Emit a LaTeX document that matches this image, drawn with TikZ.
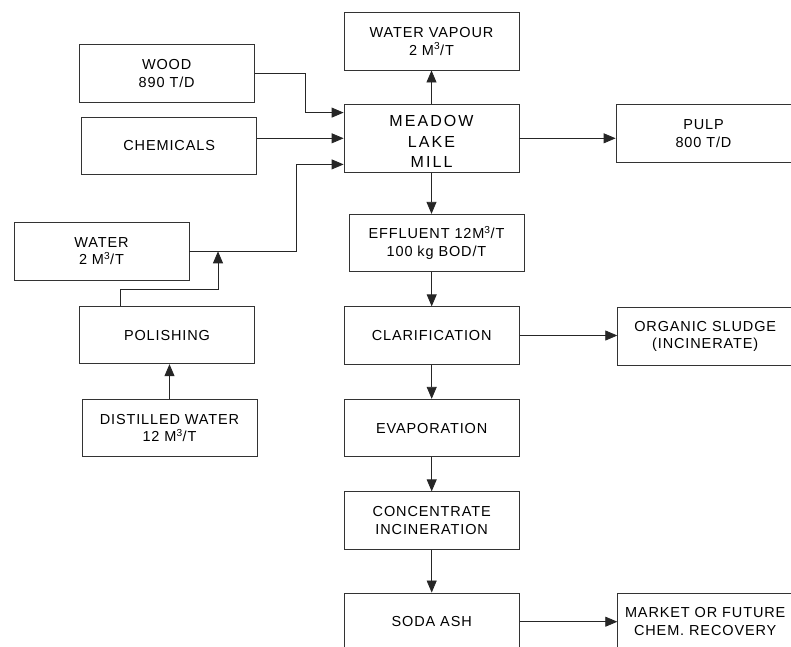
\documentclass[tikz,border=0pt]{standalone}
\usepackage{fontspec}
\newfontfamily\flowfont[LetterSpace=6]{Liberation Sans}
\newfontfamily\millfont[LetterSpace=13]{Liberation Sans}
\usetikzlibrary{arrows.meta,calc}

\begin{document}
\begin{tikzpicture}[x=1pt,y=-1pt,
    box/.style={draw=black!80, line width=0.8pt, minimum width=175pt, minimum height=57.5pt,
        align=center, inner sep=2pt, font=\flowfont\fontsize{14.5}{17.5}\selectfont},
    flow/.style={draw=black!85, line width=0.8pt, -{Triangle[length=12pt,width=10pt]}}]
    % page frame (the right and bottom boxes run off the edge)
    \useasboundingbox (0,0) rectangle (791,646);
    \clip (0,0) rectangle (791,646);
    % inputs
    \node[box] (wood) at (166.7,73.5) {WOOD\\890 T/D};
    \node[box] (chem) at (169.2,146) {CHEMICALS};
    \node[box] (water) at (101.5,251.3) {WATER\\2 M\textsuperscript{3}/T};
    \node[box] (polish) at (167,335) {POLISHING};
    \node[box] (distil) at (169.5,428) {DISTILLED WATER\\12 M\textsuperscript{3}/T};
    % mill and main line
    \node[box] (vapour) at (431.5,41.3) {WATER VAPOUR\\2 M\textsuperscript{3}/T};
    \node[box, minimum height=68pt] (mill) at (431.5,138.3) {};
    \node[align=center, inner sep=0pt, font=\millfont\fontsize{16}{20.5}\selectfont] (milltext)
        at ($(mill.center)+(0,3.4)$) {MEADOW\\LAKE\\MILL};
    \node[box] (pulp) at (703.5,133.5) {PULP\\800 T/D};
    \node[box] (effl) at (436.5,243) {EFFLUENT 12M\textsuperscript{3}/T\\100 kg BOD/T};
    \node[box] (clar) at (431.7,335.5) {CLARIFICATION};
    \node[box] (sludge) at (705.2,336.5) {ORGANIC SLUDGE\\(INCINERATE)};
    \node[box] (evap) at (431.7,428) {EVAPORATION};
    \node[box] (conc) at (431.7,520.5) {CONCENTRATE\\INCINERATION};
    \node[box] (soda) at (431.7,621.7) {SODA ASH};
    \node[box] (market) at (705.2,621.7) {MARKET OR FUTURE\\CHEM. RECOVERY};
    % bend points
    \coordinate (woodbend) at (305.7,0);
    \coordinate (waterbend) at (296,0);
    \coordinate (jx) at (218,0);
    \coordinate (inA) at ($(mill.north west)+(0,8.7)$);
    \coordinate (inC) at ($(mill.south west)+(0,-8.3)$);
    \coordinate (jn) at (water.east -| jx);
    \coordinate (polout) at ($(polish.north)+(-46.3,0)$);
    % feeds into the mill
    \draw[flow] (wood.east) -| (woodbend |- inA) -- (inA);
    \draw[flow] (mill.west -| chem.east) -- (mill.west);
    \draw[flow] (water.east) -| (waterbend |- inC) -- (inC);
    \draw[flow] (polout) -- ++(0,-16.7) -| (jn);
    \draw[flow] (distil.north) -- (distil.north |- polish.south);
    % out of the mill
    \draw[flow] (mill.north) -- (vapour.south);
    \draw[flow] (mill.east) -- (mill.east -| pulp.west);
    \draw[flow] (mill.south) -- (mill.south |- effl.north);
    \draw[flow] (effl.south -| clar.north) -- (clar.north);
    \draw[flow] (clar.east) -- (clar.east -| sludge.west);
    \draw[flow] (clar.south) -- (evap.north);
    \draw[flow] (evap.south) -- (conc.north);
    \draw[flow] (conc.south) -- (soda.north);
    \draw[flow] (soda.east) -- (soda.east -| market.west);
\end{tikzpicture}
\end{document}
